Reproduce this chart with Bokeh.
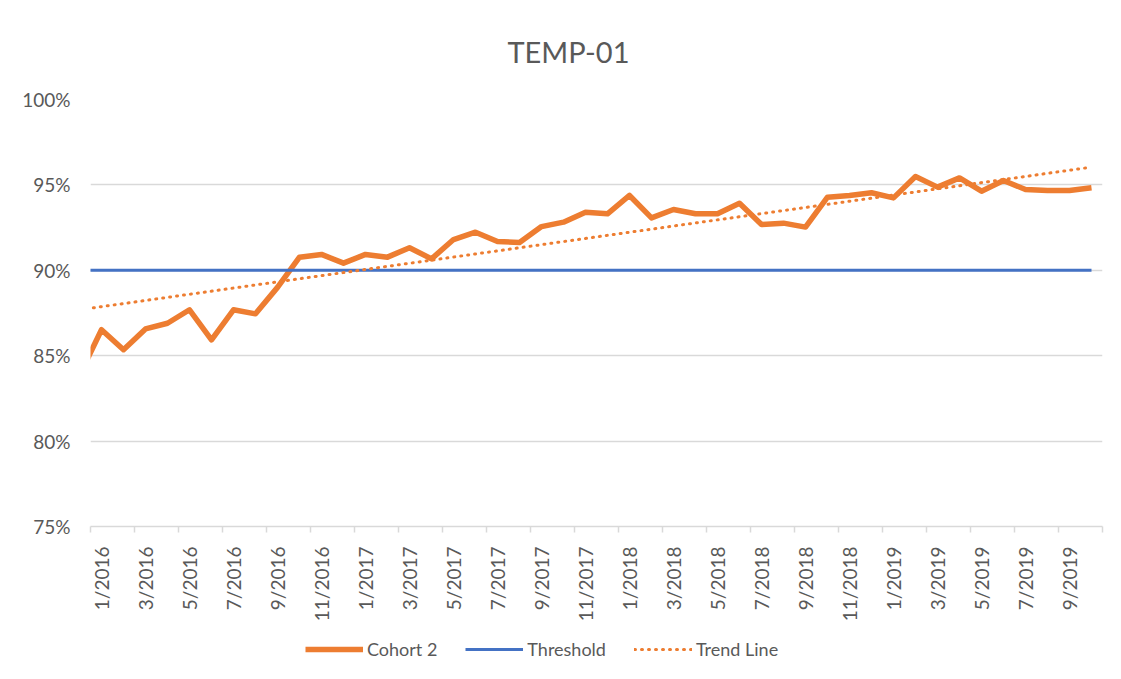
import numpy as np
from bokeh.plotting import figure
from bokeh.layouts import column
from bokeh.models import (Range1d, FixedTicker, PrintfTickFormatter, Legend, LegendItem)
from bokeh.embed import file_html
from bokeh.resources import INLINE

# ---- data ----
months = ["12/2015",
          "1/2016", "2/2016", "3/2016", "4/2016", "5/2016", "6/2016",
          "7/2016", "8/2016", "9/2016", "10/2016", "11/2016", "12/2016",
          "1/2017", "2/2017", "3/2017", "4/2017", "5/2017", "6/2017",
          "7/2017", "8/2017", "9/2017", "10/2017", "11/2017", "12/2017",
          "1/2018", "2/2018", "3/2018", "4/2018", "5/2018", "6/2018",
          "7/2018", "8/2018", "9/2018", "10/2018", "11/2018", "12/2018",
          "1/2019", "2/2019", "3/2019", "4/2019", "5/2019", "6/2019",
          "7/2019", "8/2019", "9/2019", "10/2019"]

cohort2 = [83.84,
           86.52, 85.35, 86.57, 86.90, 87.69, 85.93,
           87.69, 87.45, 89.00, 90.77, 90.93, 90.42,
           90.93, 90.77, 91.32, 90.67, 91.80, 92.23,
           91.69, 91.63, 92.56, 92.82, 93.40, 93.31,
           94.38, 93.07, 93.56, 93.31, 93.31, 93.93,
           92.68, 92.76, 92.53, 94.28, 94.38, 94.54,
           94.24, 95.49, 94.87, 95.41, 94.63, 95.26,
           94.73, 94.67, 94.67, 94.83]

threshold_level = 90.0
threshold = [threshold_level for _ in months]

trend_months = ["12/2015", "10/2019"]
trend_values = [87.69, 96.04]

label_months = months[1::2]          # 1/2016, 3/2016, ... 9/2019
y_ticks = [75, 80, 85, 90, 95, 100]
series_names = ["Cohort 2", "Threshold", "Trend Line"]

# ---- positions via category index ----
pos = {m: i for i, m in enumerate(months)}
x = [pos[m] for m in months]
trend_x = [pos[m] for m in trend_months]
label_ticks = [pos[m] for m in label_months]
minor = [t - 0.5 for t in label_ticks] + [label_ticks[-1] + 1.5]

TEXT = "#595959"
GRID = "#D9D9D9"
ORANGE = "#ED7D31"
BLUE = "#4472C4"
FONT = "Lato"

styles = [dict(color=ORANGE, line_width=5.5, line_join="round"),
          dict(color=BLUE, line_width=3),
          dict(color=ORANGE, line_width=3, line_dash="1 6", line_cap="round")]
series_xy = [(x, cohort2), (x, threshold), (trend_x, trend_values)]

p = figure(frame_width=1012, frame_height=427,
           min_border_left=90, min_border_right=12,
           min_border_top=99, min_border_bottom=100,
           x_range=Range1d(0.5, len(months) - 0.5),
           y_range=Range1d(75, 100),
           output_backend="svg", toolbar_location=None,
           title="TEMP-01")

for (xs, ys), s in zip(series_xy, styles):
    p.line(xs, ys, **s)

# title
p.title.align = "left"
p.title.offset = 417
p.title.vertical_align = "top"
p.title.text_font = FONT
p.title.text_font_size = "29px"
p.title.text_font_style = "normal"
p.title.text_color = TEXT
p.title.standoff = 57

p.outline_line_color = None
p.xgrid.visible = False
p.ygrid.grid_line_color = GRID
p.ygrid.grid_line_width = 1.5

# x axis
xa = p.xaxis[0]
xa.ticker = FixedTicker(ticks=label_ticks, minor_ticks=minor)
xa.major_label_overrides = {t: months[t] for t in label_ticks}
xa.major_label_orientation = np.pi / 2
xa.major_tick_in = 0
xa.major_tick_out = 0
xa.minor_tick_in = 0
xa.minor_tick_out = 6
xa.minor_tick_line_color = GRID
xa.minor_tick_line_width = 1.5
xa.axis_line_color = GRID
xa.axis_line_width = 1.5
xa.major_label_standoff = 14
xa.major_label_text_font = FONT
xa.major_label_text_font_size = "19px"
xa.major_label_text_color = TEXT

# y axis
ya = p.yaxis[0]
ya.ticker = FixedTicker(ticks=y_ticks)
ya.formatter = PrintfTickFormatter(format="%d%%")
ya.axis_line_color = None
ya.major_tick_line_color = None
ya.minor_tick_line_color = None
ya.major_label_standoff = 14
ya.major_label_text_font = FONT
ya.major_label_text_font_size = "19px"
ya.major_label_text_color = TEXT

# ---- legend strip below the chart (same series, outside its view range) ----
lg = figure(frame_width=1114, frame_height=46, min_border=0,
            x_range=Range1d(-3, -2), y_range=Range1d(0, 1),
            x_axis_location=None, y_axis_location=None,
            output_backend="svg", toolbar_location=None)
lg.grid.visible = False
lg.outline_line_color = None
lg_r = [lg.line(xs, ys, **s) for (xs, ys), s in zip(series_xy, styles)]

legend = Legend(items=[LegendItem(label=n, renderers=[r]) for n, r in zip(series_names, lg_r)],
                orientation="horizontal", location=(305, 12),
                border_line_color=None, background_fill_alpha=0,
                glyph_width=58, glyph_height=20, label_standoff=4, spacing=28,
                padding=0, margin=0,
                label_text_font=FONT, label_text_font_size="18px",
                label_text_color=TEXT)
lg.add_layout(legend, "center")

layout = column(p, lg, spacing=0)
open("out.html", "w").write(file_html(layout, INLINE))
